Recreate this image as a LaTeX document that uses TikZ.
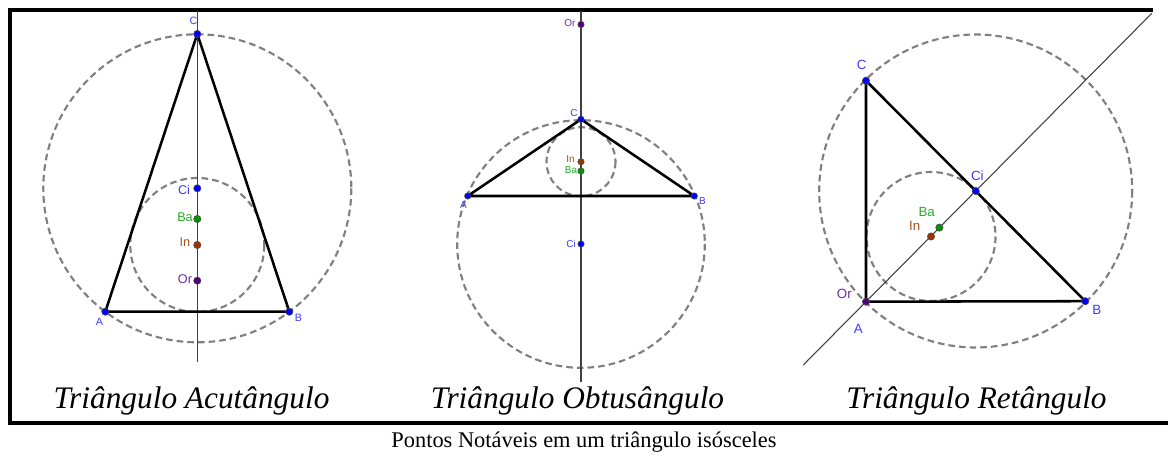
\documentclass[tikz,border=0pt]{standalone}
\usepackage{fontspec}
\setmainfont{Liberation Serif}
\newfontfamily\labfont{Liberation Sans}
\usetikzlibrary{calc}
\definecolor{ggblue}{RGB}{0,0,255}
\definecolor{gglblue}{RGB}{60,60,255}
\definecolor{gggreen}{RGB}{0,150,0}
\definecolor{gglgreen}{RGB}{40,170,40}
\definecolor{ggbrown}{RGB}{153,51,0}
\definecolor{gglbrown}{RGB}{170,80,30}
\definecolor{ggpurple}{RGB}{80,0,120}
\definecolor{gglpurple}{RGB}{110,40,160}
\tikzset{
  frame/.style={line width=2.4pt},
  tri/.style={line width=1.9pt, line join=round},
  axis/.style={line width=0.8pt, black!75},
  circ/.style={line width=1.6pt, black!50, dash pattern=on 5pt off 3pt},
  dot/.style={circle, inner sep=0pt, minimum size=5.5pt, draw=black!70, line width=0.4pt},
  dblue/.style={dot, fill=ggblue},
  dgreen/.style={dot, fill=gggreen},
  dbrown/.style={dot, fill=ggbrown},
  dpurple/.style={dot, fill=ggpurple},
  lab/.style={inner sep=0pt, font=\labfont\fontsize{9.5}{10}\selectfont},
  labs/.style={inner sep=0pt, font=\labfont\fontsize{8}{9}\selectfont},
  labm/.style={inner sep=0pt, font=\labfont\fontsize{7.5}{8}\selectfont},
  labr/.style={inner sep=0pt, font=\labfont\fontsize{10}{11}\selectfont},
  title/.style={inner sep=0pt, anchor=base, font=\itshape\fontsize{23.5}{26}\selectfont},
  caption/.style={inner sep=0pt, anchor=base, font=\fontsize{16.8}{18}\selectfont}
}
\begin{document}
\begin{tikzpicture}[x=0.75pt, y=-0.75pt]
\useasboundingbox (0,0) rectangle (1168,456);
% frame
\coordinate (f1) at (1153,10);
\coordinate (f2) at (10,10);
\coordinate (f3) at (10,423);
\coordinate (f4) at (1168,423);
\draw[frame] (f1) -- (f2) -- (f3) -- (f4);

% ================= left: acute =================
\coordinate (LA) at (105.3,311.7);
\coordinate (LB) at (289.3,311.7);
\coordinate (LC) at (197.3,34);
\coordinate (LCi) at (197.3,188.3);
\coordinate (LBa) at (197.3,219);
\coordinate (LIn) at (197.3,245);
\coordinate (LOr) at (197.3,280.7);
\coordinate (Lt) at (197.3,11);
\coordinate (Lb) at (197.3,361.7);
\draw[circ] (LCi) circle (154);
\draw[circ] (LIn) circle (67);
\draw[axis] (Lt) -- (Lb);
\draw[tri] (LA) -- (LB) -- (LC) -- cycle;
\node[dblue] (pLA) at (LA) {};
\node[dblue] (pLB) at (LB) {};
\node[dblue] (pLC) at (LC) {};
\node[dblue] (pLCi) at (LCi) {};
\node[dgreen] (pLBa) at (LBa) {};
\node[dbrown] (pLIn) at (LIn) {};
\node[dpurple] (pLOr) at (LOr) {};
\node[labs, text=gglblue] (tLA) at (99.5,321.5) {A};
\node[labs, text=gglblue] (tLB) at (298.5,318) {B};
\node[labs, text=gglblue] (tLC) at (193.5,20.5) {C};
\node[lab, text=gglblue] (tLCi) at (184,189.5) {Ci};
\node[lab, text=gglgreen] (tLBa) at (185,217.5) {Ba};
\node[lab, text=gglbrown] (tLIn) at (185,242) {In};
\node[lab, text=gglpurple] (tLOr) at (185,279.5) {Or};

% ================= middle: obtuse =================
\coordinate (MA) at (467.7,196);
\coordinate (MB) at (694.3,196);
\coordinate (MC) at (581,119.3);
\coordinate (MCi) at (581,244);
\coordinate (MBa) at (581,171);
\coordinate (MIn) at (581,161.7);
\coordinate (MOr) at (581,24.5);
\coordinate (Mt) at (581,11);
\coordinate (Mb) at (581,381.5);
\draw[circ] (MCi) circle (123.8);
\draw[circ] (MIn) circle (34.5);
\draw[axis] (Mt) -- (Mb);
\draw[tri] (MA) -- (MB) -- (MC) -- cycle;
\node[dblue, minimum size=4.8pt] (pMA) at (MA) {};
\node[dblue, minimum size=4.8pt] (pMB) at (MB) {};
\node[dblue, minimum size=4.8pt] (pMC) at (MC) {};
\node[dblue, minimum size=4.8pt] (pMCi) at (MCi) {};
\node[dgreen, minimum size=4.8pt] (pMBa) at (MBa) {};
\node[dbrown, minimum size=4.8pt] (pMIn) at (MIn) {};
\node[dpurple, minimum size=4.8pt] (pMOr) at (MOr) {};
\node[labm, text=gglblue] (tMA) at (463.5,205) {A};
\node[labm, text=gglblue] (tMB) at (702.5,201.5) {B};
\node[labm, text=gglblue] (tMC) at (574,113.5) {C};
\node[labm, text=gglblue] (tMCi) at (571,243.8) {Ci};
\node[labm, text=gglgreen] (tMBa) at (571,169.8) {Ba};
\node[labm, text=gglbrown] (tMIn) at (570.5,159) {In};
\node[labm, text=gglpurple] (tMOr) at (570,23.5) {Or};

% ================= right: right triangle =================
\coordinate (RA) at (866,301.7);
\coordinate (RB) at (1085.3,301.2);
\coordinate (RC) at (866,80.7);
\coordinate (RCi) at (975.7,191);
\coordinate (RBa) at (939.4,227.6);
\coordinate (RIn) at (931,236.5);
\coordinate (Rlo) at ($(RA)!-0.572!(RCi)$);
\coordinate (Rhi) at ($(RA)!2.605!(RCi)$);
\draw[circ] (RCi) circle (156.5);
\draw[circ] (RIn) circle (64.5);
\draw[axis] (Rlo) -- (Rhi);
\draw[tri] (RA) -- (RB) -- (RC) -- cycle;
\node[dblue] (pRB) at (RB) {};
\node[dblue] (pRC) at (RC) {};
\node[dblue] (pRCi) at (RCi) {};
\node[dgreen] (pRBa) at (RBa) {};
\node[dbrown] (pRIn) at (RIn) {};
\node[dpurple] (pRA) at (RA) {};
\node[labr, text=gglblue] (tRA) at (858.3,329) {A};
\node[labr, text=gglblue] (tRB) at (1096.7,309.5) {B};
\node[labr, text=gglblue] (tRC) at (861.7,65) {C};
\node[labr, text=gglblue] (tRCi) at (977.3,175.7) {Ci};
\node[labr, text=gglgreen] (tRBa) at (926.7,212) {Ba};
\node[labr, text=gglbrown] (tRIn) at (914.7,226) {In};
\node[labr, text=gglpurple] (tROr) at (844.3,294) {Or};

% titles
\node[title] (t1) at (191.5,408) {Triângulo Acutângulo};
\node[title] (t2) at (577.5,408) {Triângulo Obtusângulo};
\node[title] (t3) at (976.5,408) {Triângulo Retângulo};
\node[caption] (cap) at (584,447) {Pontos Notáveis em um triângulo isósceles};
\end{tikzpicture}
\end{document}
